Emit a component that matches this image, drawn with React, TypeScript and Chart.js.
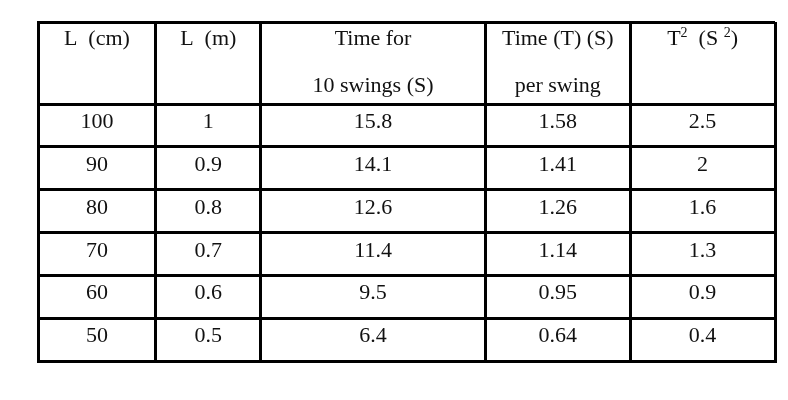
import React, { useEffect, useRef } from "react";
import { Chart, registerables } from "chart.js";

Chart.register(...registerables);

// ---- data (table content) ----
const headerLine1 = ["L  (cm)", "L  (m)", "Time for", "Time (T) (S)", "T²  (S ²)"];
const headerLine2 = ["", "", "10 swings (S)", "per swing", ""];
const lengthCm = ["100", "90", "80", "70", "60", "50"];
const lengthM = ["1", "0.9", "0.8", "0.7", "0.6", "0.5"];
const timeTen = ["15.8", "14.1", "12.6", "11.4", "9.5", "6.4"];
const periodT = ["1.58", "1.41", "1.26", "1.14", "0.95", "0.64"];
const periodSq = ["2.5", "2", "1.6", "1.3", "0.9", "0.4"];

const columns = [lengthCm, lengthM, timeTen, periodT, periodSq];

// ---- layout (relative sizes of cells, in scale units) ----
const COL_WIDTHS = [118, 105, 225, 145, 145];
const HEADER_HEIGHT = 82;
const ROW_HEIGHT = 42.83;

const colEdges: number[] = [0];
COL_WIDTHS.forEach((w) => colEdges.push(colEdges[colEdges.length - 1] + w));
const rowEdges: number[] = [0, HEADER_HEIGHT];
lengthCm.forEach(() => rowEdges.push(rowEdges[rowEdges.length - 1] + ROW_HEIGHT));

const FONT = '"Liberation Serif", "Times New Roman", serif';
const TEXT_COLOR = "#111";

type Piece = { t: string; sup?: boolean };

function parseRich(s: string): Piece[] {
  const out: Piece[] = [];
  for (const ch of s) {
    if (ch === "²") out.push({ t: "2", sup: true });
    else {
      const last = out[out.length - 1];
      if (last && !last.sup) last.t += ch;
      else out.push({ t: ch });
    }
  }
  return out;
}

function drawRich(ctx: CanvasRenderingContext2D, s: string, cx: number, baseline: number) {
  const pieces = parseRich(s);
  const big = `22px ${FONT}`;
  const small = `14px ${FONT}`;
  let total = 0;
  const widths = pieces.map((p) => {
    ctx.font = p.sup ? small : big;
    const w = ctx.measureText(p.t).width;
    total += w;
    return w;
  });
  let x = cx - total / 2;
  ctx.textAlign = "left";
  pieces.forEach((p, i) => {
    ctx.font = p.sup ? small : big;
    ctx.fillText(p.t, x, p.sup ? baseline - 8 : baseline);
    x += widths[i];
  });
}

const tableTextPlugin = {
  id: "tableText",
  afterDraw(chart: any) {
    const { ctx, scales } = chart;
    const xs = scales.x;
    const ys = scales.y;
    ctx.save();
    ctx.fillStyle = TEXT_COLOR;
    ctx.textBaseline = "alphabetic";
    for (let c = 0; c < columns.length; c++) {
      const cx = xs.getPixelForValue((colEdges[c] + colEdges[c + 1]) / 2);
      const top = ys.getPixelForValue(rowEdges[0]);
      drawRich(ctx, headerLine1[c], cx, top + 23);
      if (headerLine2[c]) drawRich(ctx, headerLine2[c], cx, top + 70);
      const vals = columns[c];
      for (let r = 0; r < vals.length; r++) {
        const rt = ys.getPixelForValue(rowEdges[r + 1]);
        drawRich(ctx, vals[r], cx, rt + 24);
      }
    }
    ctx.restore();
  },
};

export default function App() {
  const ref = useRef<HTMLCanvasElement | null>(null);
  useEffect(() => {
    if (!ref.current) return;
    const chart = new Chart(ref.current, {
      type: "scatter",
      data: { datasets: [{ data: [] }] },
      options: {
        animation: false,
        responsive: true,
        maintainAspectRatio: false,
        events: [],
        layout: { padding: { left: 38, top: 22, right: 13, bottom: 39 } },
        plugins: { legend: { display: false }, tooltip: { enabled: false } },
        scales: {
          x: {
            type: "linear",
            min: colEdges[0],
            max: colEdges[colEdges.length - 1],
            afterBuildTicks: (s: any) => {
              s.ticks = colEdges.map((v) => ({ value: v }));
            },
            ticks: { display: false },
            grid: { color: "#000", lineWidth: 3, drawTicks: false },
            border: { display: true, color: "#000", width: 3 },
          },
          y: {
            type: "linear",
            reverse: true,
            min: rowEdges[0],
            max: rowEdges[rowEdges.length - 1],
            afterBuildTicks: (s: any) => {
              s.ticks = rowEdges.map((v) => ({ value: v }));
            },
            ticks: { display: false },
            grid: { color: "#000", lineWidth: 3, drawTicks: false },
            border: { display: true, color: "#000", width: 3 },
          },
        },
      },
      plugins: [tableTextPlugin],
    });
    return () => chart.destroy();
  }, []);
  return (
    <div style={{ position: "fixed", left: 0, top: 0, width: 788, height: 400, background: "#fff" }}>
      <canvas ref={ref} />
    </div>
  );
}
